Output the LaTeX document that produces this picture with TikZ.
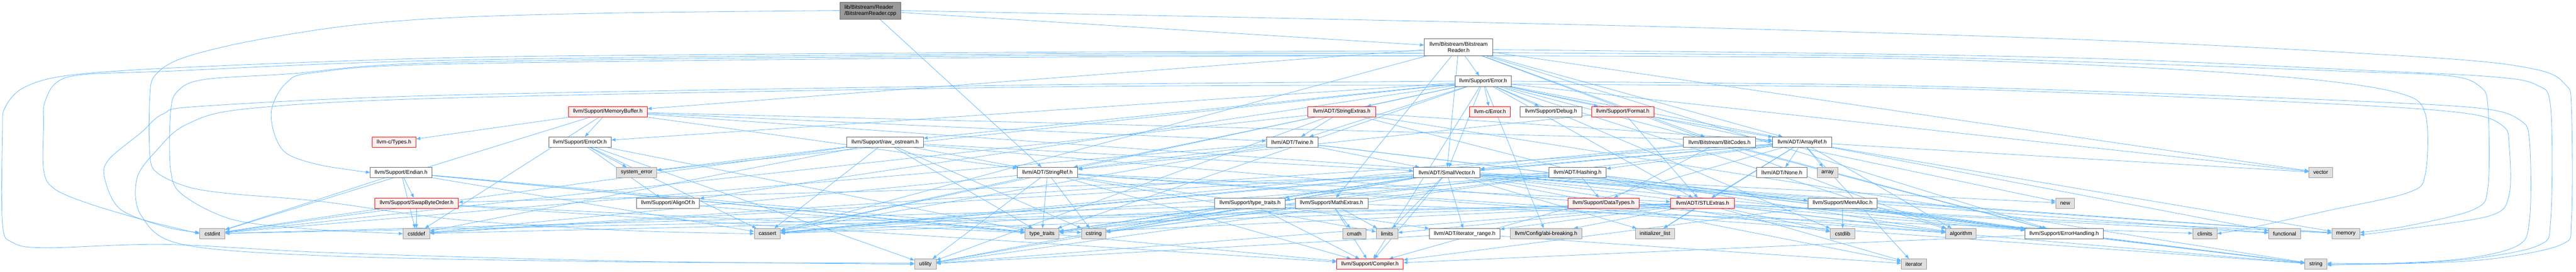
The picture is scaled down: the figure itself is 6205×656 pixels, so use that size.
\documentclass[tikz,border=0pt]{standalone}
\usepackage{fontspec}
\setmainfont{Liberation Sans}
\usetikzlibrary{arrows.meta}
\definecolor{edgec}{HTML}{63B8FF}
\definecolor{nbord}{HTML}{666666}
\definecolor{sysfill}{HTML}{E0E0E0}
\definecolor{sysbord}{HTML}{999999}
\definecolor{redfill}{HTML}{FFF0F0}
\definecolor{redbord}{HTML}{FF0000}
\definecolor{rootfill}{HTML}{999999}
\pgfdeclarelayer{edges}
\pgfsetlayers{edges,main}
\begin{document}
\begin{tikzpicture}[x=1pt,y=-1pt,
  box/.style={draw, line width=1.1pt, inner sep=0pt, minimum height=25pt, font=\fontsize{13}{15}\selectfont, text=black},
  nnorm/.style={box, draw=nbord, fill=white},
  nred/.style={box, draw=redbord, fill=redfill},
  nsys/.style={box, draw=sysbord, fill=sysfill},
  nroot/.style={box, draw=nbord, fill=rootfill},
  ed/.style={draw=edgec, line width=1pt, -{Triangle[length=10pt,width=7.5pt]}}]
\useasboundingbox (0,0) rectangle (6205,656);
% row 0
\node[nroot, minimum width=147pt, minimum height=41pt, align=left] (cpp) at (2096.5,25.5) {lib/Bitstream/Reader\\/BitstreamReader.cpp};
% row 1
\node[nnorm, minimum width=165pt, minimum height=41pt, align=center] (bsr) at (3513.5,114) {llvm/Bitstream/Bitstream\\Reader.h};
% row 2
\node[nnorm, minimum width=135pt] (err) at (3572.5,196) {llvm/Support/Error.h};
% row 3
\node[nred, minimum width=190pt] (mbuf) at (1464,269.5) {llvm/Support/MemoryBuffer.h};
\node[nred, minimum width=164pt] (sext) at (3232,269.5) {llvm/ADT/StringExtras.h};
\node[nred, minimum width=98pt] (cerr) at (3589,269.5) {llvm-c/Error.h};
\node[nnorm, minimum width=148pt] (dbg) at (3736,269.5) {llvm/Support/Debug.h};
\node[nred, minimum width=151pt] (fmt) at (3909,269.5) {llvm/Support/Format.h};
% row 4
\node[nred, minimum width=106pt] (ctypes) at (949,343) {llvm-c/Types.h};
\node[nnorm, minimum width=150pt] (erro) at (1397,343) {llvm/Support/ErrorOr.h};
\node[nnorm, minimum width=184pt] (raw) at (2132,343) {llvm/Support/raw\_ostream.h};
\node[nnorm, minimum width=125pt] (twine) at (3113,343) {llvm/ADT/Twine.h};
\node[nnorm, minimum width=174pt] (bitc) at (4142,343) {llvm/Bitstream/BitCodes.h};
\node[nnorm, minimum width=142pt] (aref) at (4341,343) {llvm/ADT/ArrayRef.h};
% row 5
\node[nnorm, minimum width=148pt] (endian) at (966,416.5) {llvm/Support/Endian.h};
\node[nsys, minimum width=97pt] (syserr) at (1533.5,416.5) {system\_error};
\node[nnorm, minimum width=146pt] (sref) at (2523,416.5) {llvm/ADT/StringRef.h};
\node[nnorm, minimum width=160pt] (svec) at (3485,416.5) {llvm/ADT/SmallVector.h};
\node[nnorm, minimum width=138pt] (hash) at (3800,416.5) {llvm/ADT/Hashing.h};
\node[nnorm, minimum width=122pt] (none) at (4292,416.5) {llvm/ADT/None.h};
\node[nsys, minimum width=50pt] (array) at (4402,416.5) {array};
\node[nsys, minimum width=56pt] (vector) at (5590,416.5) {vector};
% row 6
\node[nred, minimum width=201pt] (swap) at (1003.5,490.5) {llvm/Support/SwapByteOrder.h};
\node[nnorm, minimum width=152pt] (align) at (1609,490.5) {llvm/Support/AlignOf.h};
\node[nnorm, minimum width=170pt] (stt) at (3011,490.5) {llvm/Support/type\_traits.h};
\node[nnorm, minimum width=175pt] (math) at (3207.5,490.5) {llvm/Support/MathExtras.h};
\node[nred, minimum width=171pt] (dtypes) at (3862.5,490.5) {llvm/Support/DataTypes.h};
\node[nred, minimum width=154pt] (stlx) at (4101,490.5) {llvm/ADT/STLExtras.h};
\node[nnorm, minimum width=167pt] (malloc) at (4438.5,490.5) {llvm/Support/MemAlloc.h};
\node[nsys, minimum width=45pt] (new) at (4974.5,490.5) {new};
% row 7
\node[nsys, minimum width=61pt] (cstdint) at (511.5,564) {cstdint};
\node[nsys, minimum width=64pt] (cstddef) at (1003,564) {cstddef};
\node[nsys, minimum width=63pt] (cassert) at (1848.5,564) {cassert};
\node[nsys, minimum width=82pt] (tt) at (2510,564) {type\_traits};
\node[nsys, minimum width=59pt] (cstring) at (2634.5,564) {cstring};
\node[nsys, minimum width=56pt] (cmath) at (3262,564) {cmath};
\node[nsys, minimum width=52pt] (limits) at (3341,564) {limits};
\node[nnorm, minimum width=170pt] (irange) at (3528,564) {llvm/ADT/iterator\_range.h};
\node[nsys, minimum width=172pt] (abi) at (3724,564) {llvm/Config/abi-breaking.h};
\node[nsys, minimum width=95pt] (ilist) at (3986.5,564) {initializer\_list};
\node[nsys, minimum width=59pt] (cstdlib) at (4438.5,564) {cstdlib};
\node[nsys, minimum width=73pt] (algo) at (4723.5,564) {algorithm};
\node[nnorm, minimum width=188pt] (ehand) at (4972,564) {llvm/Support/ErrorHandling.h};
\node[nsys, minimum width=58pt] (climits) at (5311,564) {climits};
\node[nsys, minimum width=76pt] (func) at (5503,564) {functional};
\node[nsys, minimum width=67pt] (memory) at (5650.5,564) {memory};
% row 8
\node[nsys, minimum width=52pt] (utility) at (2229,637.5) {utility};
\node[nred, minimum width=160pt] (comp) at (3300,637.5) {llvm/Support/Compiler.h};
\node[nsys, minimum width=60pt] (iter) at (4610,637.5) {iterator};
\node[nsys, minimum width=53pt] (string) at (5578.5,637.5) {string};

\begin{pgfonlayer}{edges}
% routed connectors
\draw[ed] plot[smooth, tension=0.55] coordinates {(cpp.west) (1500,31) (1100,42) (840,62) (600,100) (440,140) (375,180) (361,230) (361,375) (380,418) (456,452) (561,468) (772,486) (1100,530) (1500,556) (cassert.west)};
\draw[ed] plot[smooth, tension=0.55] coordinates {(cpp.east) (3000,42) (4100,67) (5100,99) (5870,140) (6110,168) (6180,205) (6194,260) (6194,530) (6170,590) (6000,625) (5800,636) (string.5)};
\draw[ed] plot[smooth, tension=0.55] coordinates {(bsr.186) (2500,126) (1700,132) (1100,139) (500,160) (180,180) (60,210) (12,260) (6,320) (6,540) (30,585) (110,598) (400,590) (800,610) (1500,630) (utility.west)};
\draw[ed] plot[smooth, tension=0.55] coordinates {(bsr.190) (2500,130) (1100,145) (400,172) (200,180) (135,200) (107,250) (105,300) (105,410) (130,455) (210,490) (350,532) (cstdint.west)};
\draw[ed] plot[smooth, tension=0.55] coordinates {(bsr.194) (2500,134) (1100,150) (701,178) (491,192) (428,220) (411,270) (411,410) (440,470) (561,530) (750,553) (cstddef.west)};
\draw[ed] plot[smooth, tension=0.55] coordinates {(bsr.198) (2500,138) (1100,154) (760,175) (690,200) (655,260) (660,320) (690,370) (770,398) (endian.west)};
\draw[ed] plot[smooth, tension=0.55] coordinates {(err.west) (2500,205) (1100,229) (491,256) (393,275) (340,320) (262,385) (252,430) (290,505) (400,548) (cstdint.175)};
\draw[ed] plot[smooth, tension=0.55] coordinates {(err.188) (2500,210) (1100,236) (600,262) (450,300) (380,360) (330,430) (340,520) (440,590) (800,618) (1500,632) (utility.175)};
\draw[ed] plot[smooth, tension=0.55] coordinates {(bsr.-4) (4500,130) (5100,143) (5700,170) (6000,185) (6110,205) (6144,260) (6144,530) (6115,592) (5950,625) (5750,637) (string.0)};
\draw[ed] plot[smooth, tension=0.55] coordinates {(bsr.-9) (4500,135) (5100,152) (5650,172) (5900,183) (5975,210) (5993,260) (5993,450) (5960,505) (5800,545) (memory.5)};
\draw[ed] plot[smooth, tension=0.55] coordinates {(bsr.-14) (4500,140) (5100,160) (5550,190) (5780,225) (5842,275) (5842,420) (5800,465) (5600,510) (5420,550) (climits.east)};
\draw[ed] plot[smooth, tension=0.55] coordinates {(err.east) (4500,205) (5100,222) (5700,245) (5980,262) (6070,290) (6093,340) (6093,530) (6060,595) (5900,628) (string.-5)};
\draw[ed] plot[smooth, tension=0.55] coordinates {(err.-6) (4500,210) (5100,228) (5700,255) (5950,275) (6030,305) (6044,350) (6044,470) (6000,520) (5800,552) (memory.-5)};
% straight connectors
\path (cpp) edge[ed] (bsr) edge[ed] (sref);
\path (bsr) edge[ed] (aref) edge[ed] (svec) edge[ed] (bitc) edge[ed] (err) edge[ed] (ehand)
  edge[ed] (math) edge[ed] (mbuf) edge[ed] (algo) edge[ed] (cassert) edge[ed] (vector);
\path (err) edge[ed] (cerr) edge[ed] (stlx) edge[ed] (svec) edge[ed] (sext) edge[ed] (twine)
  edge[ed] (abi) edge[ed] (align) edge[ed] (comp) edge[ed] (dbg) edge[ed] (ehand)
  edge[ed] (erro) edge[ed] (fmt) edge[ed] (raw) edge[ed] (algo) edge[ed] (cassert)
  edge[ed] (cstdlib) edge[ed] (func) edge[ed] (new) edge[ed] (syserr)
  edge[ed] (tt) edge[ed] (vector);
\path (sext) edge[ed] (twine) edge[ed] (sref) edge[ed] (aref) edge[ed] (stlx)
  edge[ed] (cstdint) edge[ed] (utility) edge[ed] (string);
\path (fmt) edge[ed] (sref) edge[ed] (aref) edge[ed] (stlx);
\path (mbuf) edge[ed] (ctypes) edge[ed] (erro) edge[ed] (aref) edge[ed] (sref)
  edge[ed] (twine) edge[ed] (cstddef) edge[ed] (cstdint) edge[ed] (memory);
\path (erro) edge[ed] (align) edge[ed] (cassert) edge[ed] (syserr) edge[ed] (tt) edge[ed] (utility);
\path (raw) edge[ed] (svec) edge[ed] (sref) edge[ed] (cassert) edge[ed] (cstddef)
  edge[ed] (cstdint) edge[ed] (cstring) edge[ed] (string) edge[ed] (syserr) edge[ed] (tt);
\path (twine) edge[ed] (svec) edge[ed] (sref) edge[ed] (ehand) edge[ed] (cassert)
  edge[ed] (cstdint) edge[ed] (string);
\path (bitc) edge[ed] (svec) edge[ed] (dtypes) edge[ed] (ehand) edge[ed] (cassert);
\path (aref) edge[ed] (hash) edge[ed] (none) edge[ed] (stlx) edge[ed] (svec) edge[ed] (comp)
  edge[ed] (algo) edge[ed] (array) edge[ed] (cassert) edge[ed] (cstddef) edge[ed] (ilist)
  edge[ed] (iter) edge[ed] (memory) edge[ed] (tt) edge[ed] (vector);
\path (endian) edge[ed] (comp) edge[ed] (swap) edge[ed] (cassert) edge[ed] (cstddef)
  edge[ed] (cstdint) edge[ed] (cstring) edge[ed] (tt);
\path (sref) edge[ed] (stlx) edge[ed] (irange) edge[ed] (comp) edge[ed] (algo)
  edge[ed] (cassert) edge[ed] (cstddef) edge[ed] (cstring) edge[ed] (limits)
  edge[ed] (string) edge[ed] (tt) edge[ed] (utility);
\path (svec) edge[ed] (irange) edge[ed] (comp) edge[ed] (ehand) edge[ed] (malloc)
  edge[ed] (stt) edge[ed] (algo) edge[ed] (cassert) edge[ed] (cstddef) edge[ed] (cstdlib)
  edge[ed] (cstring) edge[ed] (func) edge[ed] (ilist) edge[ed] (iter) edge[ed] (limits)
  edge[ed] (memory) edge[ed] (new) edge[ed] (tt) edge[ed] (utility);
\path (hash) edge[ed] (dtypes) edge[ed] (ehand) edge[ed] (swap) edge[ed] (stt)
  edge[ed] (algo) edge[ed] (cassert) edge[ed] (cstring) edge[ed] (string) edge[ed] (utility);
\path (swap) edge[ed] (comp) edge[ed] (cstddef) edge[ed] (cstdint) edge[ed] (tt);
\path (align) edge[ed] (tt);
\path (stt) edge[ed] (comp) edge[ed] (tt) edge[ed] (utility);
\path (math) edge[ed] (comp) edge[ed] (cassert) edge[ed] (climits) edge[ed] (cmath)
  edge[ed] (cstdint) edge[ed] (cstring) edge[ed] (limits) edge[ed] (tt);
\path (stlx) edge[ed] (irange) edge[ed] (abi) edge[ed] (ehand) edge[ed] (algo)
  edge[ed] (cassert) edge[ed] (cstddef) edge[ed] (cstdint) edge[ed] (cstdlib)
  edge[ed] (func) edge[ed] (ilist) edge[ed] (iter) edge[ed] (limits) edge[ed] (memory)
  edge[ed] (tt) edge[ed] (utility);
\path (malloc) edge[ed] (comp) edge[ed] (ehand) edge[ed] (cstdlib);
\path (irange) edge[ed] (iter) edge[ed] (utility);
\path (ehand) edge[ed] (comp) edge[ed] (string);
\end{pgfonlayer}
\end{tikzpicture}
\end{document}
